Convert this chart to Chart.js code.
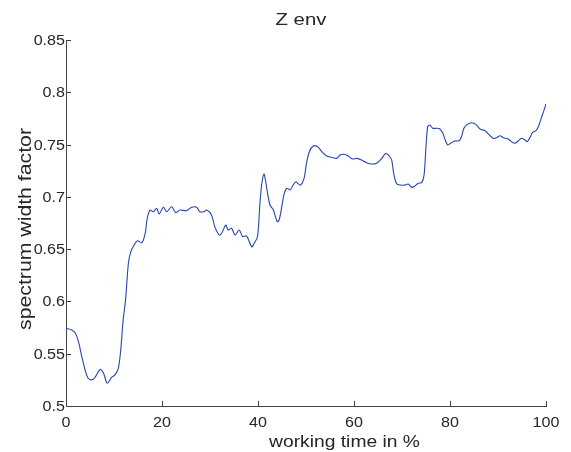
<!DOCTYPE html>
<html>
<head>
<meta charset="utf-8">
<script src="https://cdn.jsdelivr.net/npm/chart.js@4"></script>
<style>
  html, body { margin: 0; padding: 0; background: #fff; }
  #wrap { width: 571px; height: 452px; }
</style>
</head>
<body>
<div id="wrap"><canvas id="myChart" width="571" height="452"></canvas></div>
<script>
// working time in %
const timePct = [
  0, 1.2, 1.9, 2.6, 3.3, 4, 4.6, 5.3, 6, 7.1, 7.8, 8.6, 9.5, 10.2, 10.9, 11.4, 11.9, 12.4,
  13, 13.5, 14.2, 14.9, 15.8, 16.5, 16.9, 17.5, 18.2, 18.9, 19.4, 20.3, 21, 22, 22.9, 23.75,
  25.1, 26.2, 27.2, 27.9, 28.75, 29.3, 30.3, 31, 31.9, 32.4, 33.3, 33.8, 34.5, 35.2, 36.1,
  36.8, 37.6, 38.7, 39.2, 39.9, 40.4, 40.8, 41.25, 41.6, 42, 42.5, 43.2, 44, 44.4, 44.9,
  45.4, 46, 46.7, 47.2, 47.9, 48.4, 48.9, 49.6, 50.1, 50.7, 51.5, 52.4, 53.3, 54.3, 55.35,
  56.4, 57.1, 57.9, 58.8, 59.7, 60.6, 61.6, 62.6, 63.7, 64.7, 65.8, 66.5, 67.2, 67.85, 68.3,
  68.9, 69.6, 70.6, 71.3, 72, 72.7, 73.4, 74.1, 74.6, 75, 75.35, 75.8, 76.4, 77.2, 77.9,
  78.5, 79, 79.5, 80.1, 81, 81.9, 82.4, 82.9, 83.6, 84.5, 85.4, 86.25, 87.3, 88.2, 89,
  89.7, 90.4, 91.1, 92.1, 92.8, 93.5, 94.2, 94.9, 95.6, 96.1, 96.7, 97.2, 97.9, 98.4, 99,
  99.6, 100
];
// spectrum width factor
const widthFactor = [
  0.5743, 0.5727, 0.570, 0.5615, 0.547, 0.534, 0.5265, 0.525, 0.527, 0.535, 0.5316, 0.5217, 0.5274, 0.5297, 0.536, 0.5535, 0.582, 0.601,
  0.6365, 0.6476, 0.654, 0.658, 0.656, 0.665, 0.679, 0.6874, 0.6858, 0.689, 0.6836, 0.690, 0.6858, 0.6905, 0.6849, 0.6874,
  0.6868, 0.690, 0.690, 0.6858, 0.6858, 0.6874, 0.6826, 0.6715, 0.6635, 0.665, 0.673, 0.6683, 0.670, 0.6635, 0.6683,
  0.662, 0.6626, 0.6523, 0.6556, 0.662, 0.6938, 0.713, 0.7219, 0.7145, 0.7034, 0.6922, 0.6874, 0.6763, 0.6779, 0.689,
  0.7018, 0.7082, 0.7066, 0.7104, 0.7145, 0.7123, 0.7113, 0.7177, 0.7321, 0.7432, 0.7486, 0.748, 0.7432, 0.739, 0.7378,
  0.7368, 0.740, 0.7407, 0.739, 0.7362, 0.7368, 0.7352, 0.7327, 0.7314, 0.7321, 0.7368, 0.7412, 0.740, 0.7352, 0.7215,
  0.7125, 0.7113, 0.7113, 0.7123, 0.7091, 0.7104, 0.713, 0.7136, 0.7209, 0.748, 0.7671, 0.7687, 0.7656, 0.7656, 0.7649,
  0.7608, 0.7544, 0.7496, 0.7512, 0.7534, 0.7537, 0.7575, 0.7656, 0.7693, 0.7709, 0.7693, 0.7649, 0.7633, 0.7592, 0.756,
  0.7566, 0.7585, 0.7566, 0.7553, 0.7528, 0.7512, 0.7534, 0.756, 0.7544, 0.7528, 0.757, 0.7617, 0.7633, 0.7671, 0.7751,
  0.783, 0.7888
];
const xTicks = [0, 20, 40, 60, 80, 100];
const yTicks = [0.5, 0.55, 0.6, 0.65, 0.7, 0.75, 0.8, 0.85];

const axisColor = "#444444";
const textColor = "#262626";
const fontFamily = "'Liberation Sans', Arial, sans-serif";
const stretch = 1.15; // reference text looks horizontally widened

// draw text squeezed/widened along its own direction
function drawText(ctx, text, x, y, size, align, sx, angle) {
  ctx.save();
  ctx.font = size + "px " + fontFamily;
  ctx.textAlign = align;
  ctx.textBaseline = "alphabetic";
  ctx.translate(x, y);
  if (angle) ctx.rotate(angle);
  ctx.scale(sx, 1);
  ctx.fillText(text, 0, 0);
  ctx.restore();
}
function fitScale(ctx, text, size, target) {
  ctx.font = size + "px " + fontFamily;
  return target / ctx.measureText(text).width;
}

const matlabLook = {
  id: "matlabLook",
  afterDraw(chart) {
    const { ctx, chartArea, scales } = chart;
    const x = scales.x, y = scales.y;
    ctx.save();
    ctx.strokeStyle = axisColor;
    ctx.lineWidth = 1;
    ctx.beginPath();
    xTicks.forEach((v) => {
      const px = Math.round(x.getPixelForValue(v)) + 0.5;
      ctx.moveTo(px, chartArea.bottom);
      ctx.lineTo(px, chartArea.bottom - 5);
    });
    yTicks.forEach((v) => {
      const py = Math.round(y.getPixelForValue(v)) + 0.5;
      ctx.moveTo(chartArea.left, py);
      ctx.lineTo(chartArea.left + 5, py);
    });
    ctx.stroke();

    ctx.fillStyle = textColor;
    xTicks.forEach((v) => {
      drawText(ctx, String(v), x.getPixelForValue(v), 427, 14, "center", stretch, 0);
    });
    yTicks.forEach((v) => {
      const lbl = String(Math.round(v * 100) / 100);
      drawText(ctx, lbl, chartArea.left - 1, y.getPixelForValue(v) + 5, 14, "right", stretch, 0);
    });

    const t = "Z env";
    drawText(ctx, t, 301, 25, 17, "center", fitScale(ctx, t, 17, 51), 0);
    const xl = "working time in %";
    drawText(ctx, xl, 344.5, 447, 17, "center", fitScale(ctx, xl, 17, 151), 0);
    const yl = "spectrum width factor";
    drawText(ctx, yl, 31, 229, 19, "center", fitScale(ctx, yl, 19, 202), -Math.PI / 2);
    ctx.restore();
  },
};

const data = {
  datasets: [
    {
      label: "Z env",
      data: timePct.map((t, i) => ({ x: t, y: widthFactor[i] })),
      borderColor: "#2446ad",
      borderWidth: 1.1,
      pointRadius: 0,
      tension: 0.3,
      fill: false,
    },
  ],
};

const config = {
  type: "line",
  data,
  options: {
    responsive: false,
    animation: false,
    layout: { padding: { left: 0, top: 40, right: 25, bottom: 0 } },
    plugins: { legend: { display: false }, tooltip: { enabled: false } },
    scales: {
      x: {
        type: "linear",
        min: 0,
        max: 100,
        afterBuildTicks: (s) => { s.ticks = xTicks.map((v) => ({ value: v })); },
        afterFit: (s) => { s.height = 46; },
        grid: { display: false, drawTicks: false },
        border: { display: true, color: axisColor, width: 1 },
        ticks: { display: false },
      },
      y: {
        type: "linear",
        min: 0.5,
        max: 0.85,
        afterBuildTicks: (s) => { s.ticks = yTicks.map((v) => ({ value: v })); },
        afterFit: (s) => { s.width = 66; },
        grid: { display: false, drawTicks: false },
        border: { display: true, color: axisColor, width: 1 },
        ticks: { display: false },
      },
    },
  },
  plugins: [matlabLook],
};

const myChart = new Chart(document.getElementById("myChart"), config);
</script>
</body>
</html>
